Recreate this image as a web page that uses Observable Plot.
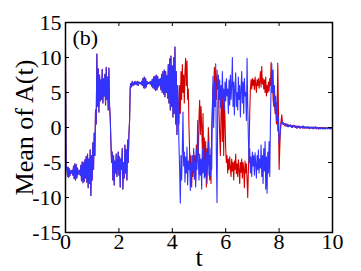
<!DOCTYPE html>
<html><head><meta charset="utf-8">
<script src="https://cdn.jsdelivr.net/npm/d3@7"></script>
<script src="https://cdn.jsdelivr.net/npm/@observablehq/plot@0.6"></script>
<style>body{margin:0;background:#fff}</style>
</head><body><div id="chart"></div>
<script>
// x ticks / y ticks
const xTicks = [0, 2, 4, 6, 8, 10];
const yTicks = [-15, -10, -5, 0, 5, 10, 15];
const xLabel = "t";
const yLabel = "Mean of A(t)";
const panelTag = "(b)";

// Shared trajectory (red hidden under blue), t = 0 .. 4.2
const shared = [
 10.5,-6.0,-5.6,-7.0,-5.7,-7.1,-5.9,-6.8,-6.2,-6.5,-6.1,-6.8,-5.5,-7.3,-5.2,-7.5,
 -5.3,-7.2,-5.8,-6.7,-6.3,-6.1,-6.8,-5.4,-7.6,-4.9,-7.9,-5.0,-7.7,-4.6,-7.2,-4.1,
 -7.8,-3.8,-8.6,-4.5,-8.0,-3.2,-9.7,-4.0,-7.5,-2.2,-6.0,-0.8,-4.0,2.5,0.5,10.5,
 3.0,8.4,2.2,7.5,3.8,6.8,4.0,8.3,3.5,7.0,4.5,7.6,3.2,8.6,4.0,7.2,
 2.5,8.5,3.0,1.5,-2.0,-5.0,-3.5,-7.5,-4.0,-8.2,-4.8,-6.5,-3.8,-7.0,-5.2,-3.5,
 -6.8,-4.2,-8.5,-4.5,-6.0,-3.0,-8.8,-5.0,-7.2,-2.5,-6.5,-3.2,-7.5,-1.8,-5.0,-1.0,
 1.0,5.8,6.3,5.8,6.6,6.0,6.4,6.1,6.6,6.2,6.5,6.1,6.6,6.0,6.5,6.3,
 6.4,6.2,6.6,6.0,7.0,5.7,7.2,5.6,7.0,5.8,6.6,6.2,6.4,6.3,6.5,6.2,
 6.6,5.9,6.9,5.7,7.2,5.5,7.3,5.3,7.5,5.4,7.3,5.8,6.9,6.0,7.0,5.4,
 7.6,5.0,8.0,4.8,8.2,4.4,8.0,5.0,7.4,4.2,9.0,3.5,9.8,2.5,10.2,3.0,
 8.8,1.5,10.0,2.0,11.5,0.5,8.0,-1.0,6.0
];

// t = 4.225 .. 8.2 (rows of 0.2)
const blueLate = [
 3.0,-2.5,-6.0,-10.8,-4.0,-7.5,-3.0,2.2,
 -5.5,-3.5,-7.8,-4.2,-6.5,-2.8,-8.2,-4.8,
 -6.0,-3.6,-9.0,-5.2,-7.0,-4.0,-6.2,-3.0,
 -7.4,-5.0,-8.5,-3.2,-6.0,1.0,-4.5,-7.5,
 -3.8,-6.8,-4.5,-8.8,-3.0,-6.5,-2.5,-7.2,
 -4.6,-6.2,-3.5,-8.0,-5.0,-2.0,-6.8,-4.0,
 -7.0,-3.0,-6.0,1.5,7.3,0.0,6.5,3.0,
 9.1,-4.0,-10.7,2.0,7.5,4.0,6.8,2.8,
 6.0,3.5,8.0,4.2,5.5,2.5,6.5,3.8,
 7.0,4.5,5.5,2.0,6.8,3.2,7.5,4.0,
 6.0,10.0,3.0,6.5,1.8,5.8,7.8,3.0,
 5.0,2.5,7.2,4.0,6.0,1.5,5.5,8.0,
 3.5,6.5,2.0,7.0,4.5,5.0,1.0,9.9,
 3.0,-1.5,-5.0,-3.0,-6.5,-4.2,-7.0,-3.5,
 -5.5,-4.0,-6.8,-3.6,-5.2,-7.2,-4.0,-6.0,
 -3.2,-6.5,-4.5,-5.8,-2.5,-7.0,-4.0,-8.0,
 -3.0,-6.2,-2.0,-8.8,-4.2,-9.4,-3.5,-6.5,
 -2.0,-7.0,0.5,6.0,9.1,5.0,8.2,3.5,
 6.0,2.5,4.5,1.0,3.6,-0.5,1.5,-2.3,
 -1.5,-0.5,0.6,0.9,0.5,0.7,0.4,0.5
];

const redLate = [
 3.0,0.5,6.0,2.0,8.0,4.0,9.0,5.0,
 7.5,3.5,8.0,9.9,6.0,9.5,4.0,5.5,
 0.0,-3.5,-6.5,-4.0,-8.5,-5.0,-7.0,-3.5,
 -6.5,-4.0,-7.8,-2.5,-5.0,-1.0,-4.0,1.5,
 3.9,-1.0,3.0,0.0,-3.0,2.0,-5.0,-1.5,
 -7.0,-2.0,-8.5,-3.0,-5.5,0.0,-2.5,-7.5,
 -4.0,-8.0,0.0,3.0,6.0,3.5,8.6,5.0,
 7.5,4.0,8.2,5.5,6.0,2.0,-1.0,-4.0,
 2.0,6.0,-2.0,5.0,-4.0,4.0,1.0,-3.0,
 -5.0,-4.0,-6.5,-4.5,-6.0,-4.2,-5.8,-7.0,
 -4.5,-6.2,-5.0,-7.5,-4.8,-6.0,-3.8,-6.6,
 -5.2,-7.0,-4.6,-6.0,-8.0,-5.0,-6.4,-4.5,
 -7.2,-5.0,-6.0,-8.6,-4.8,-6.5,-5.2,-7.5,
 -10.0,-6.0,-3.0,2.0,5.5,6.8,5.5,7.0,
 6.0,6.8,5.4,7.2,6.2,5.0,6.8,6.0,
 7.0,5.6,6.5,8.0,5.8,8.7,6.2,7.0,
 5.5,6.8,5.0,7.2,4.5,6.0,5.0,6.5,
 5.2,7.0,6.0,9.3,5.0,7.5,4.0,3.0,
 4.5,2.0,3.5,0.5,2.0,9.2,3.0,-6.0,
 -3.0,0.0,1.0,1.8,0.8,0.5,0.6,0.3
];

// t = 8.225 .. 10
const tailBlue = [
 0.4,0.2,0.5,0.3,0.4,0.1,0.3,0.2,
 0.4,0.1,0.3,0.0,0.2,0.3,0.1,0.2,
 0.0,0.2,-0.1,0.1,0.2,0.0,0.1,-0.1,
 0.1,0.0,0.2,-0.1,0.0,0.1,-0.1,0.0,
 0.1,-0.1,0.0,0.1,-0.2,0.0,-0.1,0.1,
 -0.1,0.0,-0.2,0.0,-0.1,0.1,-0.1,0.0,
 -0.1,0.0,-0.2,0.0,-0.1,-0.2,0.0,-0.1,
 -0.2,0.0,-0.1,-0.2,0.0,-0.1,-0.1,0.0,
 -0.2,-0.1,0.0,-0.1,-0.2,0.0,-0.1,-0.1
];
const tailRed = [
 0.6,0.3,0.2,0.5,0.1,0.4,0.2,0.3,
 0.2,0.3,0.0,0.3,0.1,0.2,0.3,0.0,
 0.2,-0.1,0.1,0.2,0.0,0.2,-0.1,0.1,
 0.0,0.1,-0.1,0.2,0.0,-0.1,0.1,0.0,
 -0.1,0.1,0.0,-0.1,0.1,-0.1,0.0,-0.1,
 0.0,-0.1,0.1,-0.1,0.0,-0.1,0.1,-0.2,
 0.0,-0.1,0.0,-0.2,0.0,-0.1,0.0,-0.1,
 -0.1,0.0,-0.2,-0.1,0.0,-0.2,-0.1,-0.1,
 -0.1,0.0,-0.1,-0.2,0.0,-0.1,-0.2,-0.1
];

function seg(vals, t0, t1) {
  return vals.map((v, i) => ({t: t0 + i * (t1 - t0) / (vals.length - 1), v}));
}
const redData = [...seg(shared, 0, 4.2), ...seg(redLate, 4.225, 8.2), ...seg(tailRed, 8.225, 10)];
const blueData = [...seg(shared, 0, 4.2), ...seg(blueLate, 4.225, 8.2), ...seg(tailBlue, 8.225, 10)];

const W = 361, H = 271, mL = 65, mR = 29, mT = 22, mB = 39;
const pw = W - mL - mR, ph = H - mT - mB;
const tk = 4;
const fmt = d => String(d);

const chart = Plot.plot({
  width: W, height: H,
  marginLeft: mL, marginRight: mR, marginTop: mT, marginBottom: mB,
  x: {domain: [0, 10]},
  y: {domain: [-15, 15]},
  style: {fontFamily: "'Liberation Serif', 'Times New Roman', serif", background: "white", color: "black", overflow: "visible"},
  marks: [
    Plot.line(redData, {x: "t", y: "v", stroke: "#d40000", strokeWidth: 1.1}),
    Plot.line(blueData, {x: "t", y: "v", stroke: "#3333ff", strokeWidth: 1.1}),
    // inward ticks
    Plot.tickY(yTicks, {y: d => d, insetRight: pw - tk, stroke: "black"}),
    Plot.tickY(yTicks, {y: d => d, insetLeft: pw - tk, stroke: "black"}),
    Plot.tickX(xTicks, {x: d => d, insetTop: ph - tk, stroke: "black"}),
    Plot.tickX(xTicks, {x: d => d, insetBottom: ph - tk, stroke: "black"}),
    Plot.frame({stroke: "black", strokeWidth: 1.5}),
    Plot.axisX(xTicks, {tickSize: 0, tickPadding: 1, fontSize: 22, tickFormat: fmt, label: null}),
    Plot.axisY(yTicks, {tickSize: 0, tickPadding: 4, fontSize: 22, tickFormat: fmt, label: null}),
    Plot.text([xLabel], {frameAnchor: "bottom", dy: 33, textAnchor: "middle", lineAnchor: "bottom", fontSize: 26}),
    Plot.text([yLabel], {frameAnchor: "left", rotate: -90, dx: -33, textAnchor: "middle", lineAnchor: "bottom", fontSize: 26}),
    Plot.text([panelTag], {frameAnchor: "top-left", dx: 7, dy: 22, textAnchor: "start", lineAnchor: "bottom", fontSize: 22})
  ]
});
document.getElementById("chart").appendChild(chart);
</script>
</body></html>
